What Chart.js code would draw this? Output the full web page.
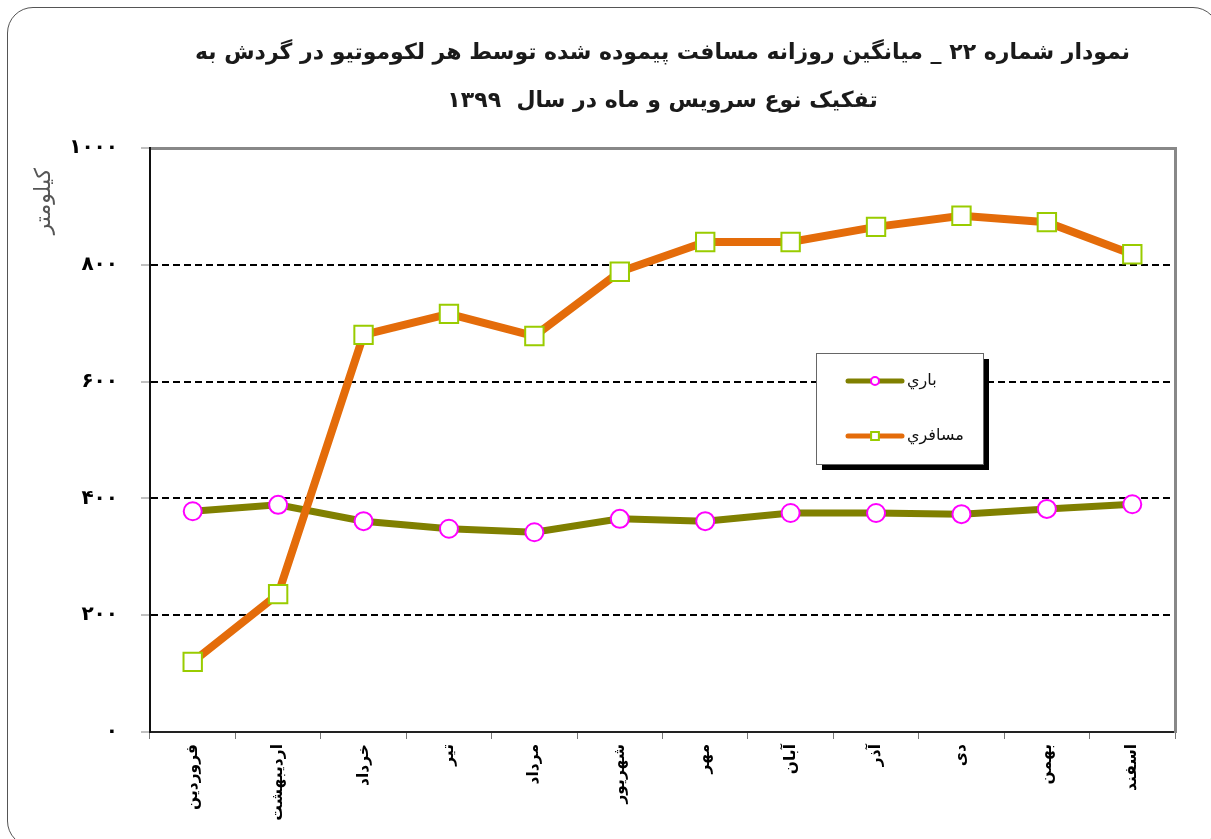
<!DOCTYPE html>
<html lang="fa">
<head>
<meta charset="utf-8">
<title>میانگین روزانه مسافت پیموده شده</title>
<script src="https://cdn.jsdelivr.net/npm/chart.js@4.4.1/dist/chart.umd.min.js"></script>
<style>
  html, body { margin: 0; padding: 0; background: #fff; overflow: hidden; }
  #wrap { position: relative; width: 1211px; height: 839px; }
  #frame {
    position: absolute; left: 7px; top: 7px; width: 1212px; height: 840px;
    border: 1.5px solid #555; border-radius: 26px; box-sizing: border-box;
  }
  canvas { position: absolute; left: 0; top: 0; }
</style>
</head>
<body>
<div id="wrap">
  <div id="frame"></div>
  <canvas id="chart" width="1211" height="839"></canvas>
</div>
<script>
// داده‌ها
const months = ['فروردین', 'اردیبهشت', 'خرداد', 'تیر', 'مرداد', 'شهریور', 'مهر', 'آبان', 'آذر', 'دی', 'بهمن', 'اسفند'];
const freight = [378, 389, 361, 348, 342, 365, 361, 375, 375, 373, 382, 390];
const passenger = [120, 236, 680, 716, 678, 788, 839, 839, 865, 884, 873, 818];
const seriesNames = ['باري', 'مسافري'];
const yMin = 0;
const yMax = 1000;
const yStep = 200;
const titleLines = [
  'نمودار شماره ۲۲ _ میانگین روزانه مسافت پیموده شده توسط هر لکوموتیو در گردش به',
  'تفکیک نوع سرویس و ماه در سال  ۱۳۹۹'
];
const yTitle = 'کیلومتر';

const faFont = '"DejaVu Sans", "Noto Sans", sans-serif';

// تبدیل ارقام به فارسی
function toFa(n) {
  return String(n).replace(/\d/g, (d) => '۰۱۲۳۴۵۶۷۸۹'[d]);
}

// عنوان محور عمودی و راهنمای داخل نمودار
const extras = {
  id: 'extras',
  afterDraw(chart) {
    const { ctx, chartArea } = chart;

    // عنوان محور y
    ctx.save();
    ctx.translate(44, chartArea.top + 20);
    ctx.rotate(-Math.PI / 2);
    ctx.font = '22px ' + faFont;
    ctx.fillStyle = '#555';
    ctx.textAlign = 'right';
    ctx.textBaseline = 'middle';
    ctx.fillText(yTitle, 0, 0);
    ctx.restore();

    // راهنما
    const x = chartArea.left + 666;
    const y = chartArea.top + 205;
    const w = 167;
    const h = 111;
    ctx.save();
    ctx.fillStyle = '#000';
    ctx.fillRect(x + 6, y + 6, w, h);
    ctx.fillStyle = '#fff';
    ctx.fillRect(x, y, w, h);
    ctx.strokeStyle = '#666';
    ctx.lineWidth = 1;
    ctx.strokeRect(x + 0.5, y + 0.5, w, h);

    chart.data.datasets.forEach((ds, i) => {
      const ly = y + 28 + i * 55;
      ctx.strokeStyle = ds.borderColor;
      ctx.lineWidth = 5;
      ctx.lineCap = 'round';
      ctx.beginPath();
      ctx.moveTo(x + 32, ly);
      ctx.lineTo(x + 86, ly);
      ctx.stroke();

      ctx.fillStyle = '#fff';
      ctx.strokeStyle = ds.pointBorderColor;
      ctx.lineWidth = 2;
      Chart.helpers.drawPoint(ctx, {
        pointStyle: ds.pointStyle,
        radius: ds.pointStyle === 'rect' ? 5.5 : 4,
        borderWidth: 2,
        rotation: 0
      }, x + 59, ly);

      ctx.fillStyle = '#111';
      ctx.font = '16px ' + faFont;
      ctx.textAlign = 'left';
      ctx.textBaseline = 'middle';
      ctx.fillText(ds.label, x + 91, ly);
    });
    ctx.restore();
  }
};

const ctx = document.getElementById('chart').getContext('2d');

new Chart(ctx, {
  type: 'line',
  data: {
    labels: months,
    datasets: [
      {
        label: seriesNames[0],
        data: freight,
        borderColor: '#808000',
        borderWidth: 7,
        pointStyle: 'circle',
        pointRadius: 9,
        pointBackgroundColor: '#fff',
        pointBorderColor: '#FF00FF',
        pointBorderWidth: 2,
        tension: 0,
        order: 1
      },
      {
        label: seriesNames[1],
        data: passenger,
        borderColor: '#E46C0A',
        borderWidth: 8,
        pointStyle: 'rect',
        pointRadius: 13,
        pointBackgroundColor: '#fff',
        pointBorderColor: '#99CC00',
        pointBorderWidth: 2,
        tension: 0,
        order: 0
      }
    ]
  },
  options: {
    responsive: false,
    animation: false,
    devicePixelRatio: 1,
    layout: { padding: { left: 0, right: 36, top: 0, bottom: 0 } },
    plugins: {
      legend: { display: false },
      tooltip: { enabled: false },
      title: {
        display: true,
        fullSize: false,
        text: titleLines,
        color: '#1a1a1a',
        font: { family: faFont, size: 22, weight: 'bold', lineHeight: 2.2 },
        padding: { top: 29, bottom: 22.2 }
      }
    },
    scales: {
      x: {
        type: 'category',
        position: 'bottom',
        offset: true,
        grid: {
          offset: true,
          drawOnChartArea: false,
          drawTicks: true,
          tickLength: 7,
          color: '#777',
          lineWidth: 1
        },
        border: { color: '#222', width: 2 },
        ticks: {
          autoSkip: false,
          maxRotation: 90,
          minRotation: 90,
          padding: 5,
          color: '#000',
          font: { family: faFont, size: 15.5, weight: 'bold' }
        },
        afterFit(scale) { scale.height = 107; }
      },
      xTop: {
        type: 'category',
        position: 'top',
        grid: { display: false, drawTicks: false },
        ticks: { display: false },
        border: { color: '#888', width: 3 },
        afterFit(scale) { scale.height = 0; }
      },
      y: {
        type: 'linear',
        position: 'left',
        min: yMin,
        max: yMax,
        ticks: {
          stepSize: yStep,
          padding: 23,
          color: '#000',
          font: { family: faFont, size: 20, weight: 'bold' },
          callback: (v) => toFa(v)
        },
        grid: {
          drawTicks: true,
          tickLength: 9,
          lineWidth: 2,
          tickWidth: 1,
          tickColor: '#808080',
          color: (c) => (c.tick && (c.tick.value === yMin || c.tick.value === yMax)) ? 'rgba(0,0,0,0)' : '#000'
        },
        border: { color: '#111', width: 2, dash: [7, 4] },
        afterFit(scale) { scale.width = 150; }
      },
      yRight: {
        type: 'linear',
        position: 'right',
        grid: { display: false, drawTicks: false },
        ticks: { display: false },
        border: { color: '#888', width: 3 },
        afterFit(scale) { scale.width = 0; }
      }
    }
  },
  plugins: [extras]
});
</script>
</body>
</html>
